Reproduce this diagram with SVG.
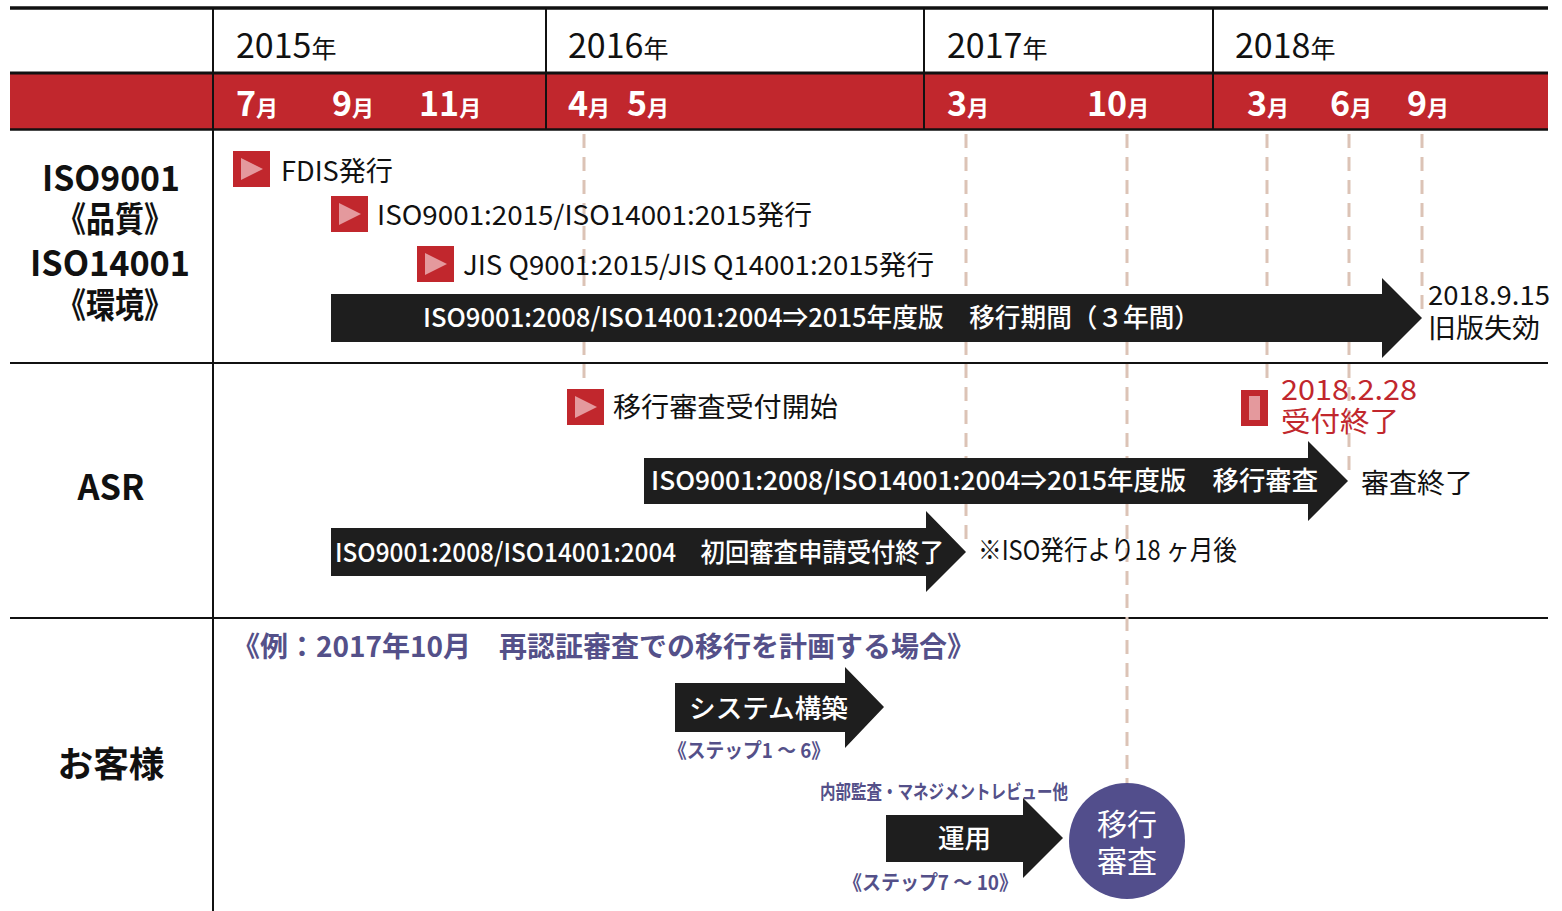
<svg xmlns="http://www.w3.org/2000/svg" width="1562" height="911" viewBox="0 0 1562 911">
<style>
text{font-family:"Noto Sans CJK JP","Noto Sans",sans-serif;}
.yr{font-size:34px;fill:#111;}
.yr tspan{font-size:25px;}
.mo{font-size:34px;fill:#fff;font-weight:700;}
.mo tspan{font-size:22px;}
.lbl{font-size:35px;font-weight:700;fill:#111;text-anchor:middle;}
.ev{font-size:27px;fill:#111;}
.wt{font-size:26px;fill:#fff;font-weight:500;}
.red{font-size:28px;fill:#c1272d;}
.pu{fill:#545089;font-weight:700;}
.dash{stroke:#dcc3b6;stroke-width:3;stroke-dasharray:14 9;fill:none;}
.grid{stroke:#111;fill:none;}
.arr{fill:#1e1e1e;}
</style>
<defs>
<g id="mk"><rect x="0" y="0" width="37" height="36" fill="#c1272d"/><polygon points="8,7 30,18 8,29" fill="#e4999d"/></g>
</defs>

<g id="header">
<rect x="10" y="73" width="1538" height="56" fill="#c1272d"/>
<line class="grid" x1="10" y1="8" x2="1548" y2="8" stroke-width="3.5"/>
<line class="grid" x1="10" y1="73" x2="1548" y2="73" stroke-width="3"/>
<line class="grid" x1="10" y1="129.5" x2="1548" y2="129.5" stroke-width="2.5"/>
<line class="grid" x1="213" y1="8" x2="213" y2="911" stroke-width="2"/>
<line class="grid" x1="546" y1="8" x2="546" y2="129" stroke-width="2"/>
<line class="grid" x1="924" y1="8" x2="924" y2="129" stroke-width="2"/>
<line class="grid" x1="1213" y1="8" x2="1213" y2="129" stroke-width="2"/>
<line class="grid" x1="10" y1="363" x2="1548" y2="363" stroke-width="2"/>
<line class="grid" x1="10" y1="618" x2="1548" y2="618" stroke-width="2"/>
<text class="yr" x="236" y="58">2015<tspan>年</tspan></text>
<text class="yr" x="568" y="58">2016<tspan>年</tspan></text>
<text class="yr" x="947" y="58">2017<tspan>年</tspan></text>
<text class="yr" x="1235" y="58">2018<tspan>年</tspan></text>
<text class="mo" x="236" y="116">7<tspan>月</tspan></text>
<text class="mo" x="332" y="116">9<tspan>月</tspan></text>
<text class="mo" x="419" y="116">11<tspan>月</tspan></text>
<text class="mo" x="568" y="116">4<tspan>月</tspan></text>
<text class="mo" x="627" y="116">5<tspan>月</tspan></text>
<text class="mo" x="947" y="116">3<tspan>月</tspan></text>
<text class="mo" x="1087" y="116">10<tspan>月</tspan></text>
<text class="mo" x="1247" y="116">3<tspan>月</tspan></text>
<text class="mo" x="1330" y="116">6<tspan>月</tspan></text>
<text class="mo" x="1407" y="116">9<tspan>月</tspan></text>
</g>

<g id="connectors">
<line class="dash" x1="584" y1="134" x2="584" y2="384"/>
<line class="dash" x1="966" y1="134" x2="966" y2="542"/>
<line class="dash" x1="1127" y1="134" x2="1127" y2="783"/>
<line class="dash" x1="1267" y1="134" x2="1267" y2="384"/>
<line class="dash" x1="1349" y1="134" x2="1349" y2="470"/>
<line class="dash" x1="1422" y1="134" x2="1422" y2="318"/>
</g>

<g id="row-labels">
<text class="lbl" x="111" y="191" textLength="138" lengthAdjust="spacingAndGlyphs">ISO9001</text>
<text class="lbl" x="115" y="232" font-size="31" textLength="116" lengthAdjust="spacingAndGlyphs">《品質》</text>
<text class="lbl" x="110" y="276" textLength="160" lengthAdjust="spacingAndGlyphs">ISO14001</text>
<text class="lbl" x="115" y="318" font-size="31" textLength="116" lengthAdjust="spacingAndGlyphs">《環境》</text>
<text class="lbl" x="111" y="500" font-size="37" textLength="67" lengthAdjust="spacingAndGlyphs">ASR</text>
<text class="lbl" x="111" y="777" font-size="34" textLength="107" lengthAdjust="spacingAndGlyphs">お客様</text>
</g>

<g id="ev-fdis">
<use href="#mk" x="233" y="151"/>
<text class="ev" x="281" y="181" textLength="112" lengthAdjust="spacingAndGlyphs">FDIS発行</text>
</g>
<g id="ev-iso">
<use href="#mk" x="331" y="196"/>
<text class="ev" x="377" y="225" textLength="435" lengthAdjust="spacingAndGlyphs">ISO9001:2015/ISO14001:2015発行</text>
</g>
<g id="ev-jis">
<use href="#mk" x="417" y="246"/>
<text class="ev" x="463" y="275" textLength="471" lengthAdjust="spacingAndGlyphs">JIS Q9001:2015/JIS Q14001:2015発行</text>
</g>
<g id="arrow-transition">
<polygon class="arr" points="331,294 1382,294 1382,278 1422,318 1382,358 1382,342 331,342"/>
<text class="wt" x="423" y="327" textLength="777" lengthAdjust="spacingAndGlyphs">ISO9001:2008/ISO14001:2004⇒2015年度版　移行期間（３年間）</text>
</g>
<g id="ev-expire">
<text class="ev" x="1428" y="305" font-size="26" textLength="122" lengthAdjust="spacingAndGlyphs">2018.9.15</text>
<text class="ev" x="1428" y="338" font-size="26" textLength="112" lengthAdjust="spacingAndGlyphs">旧版失効</text>
</g>

<g id="ev-accept-start">
<use href="#mk" x="567" y="389"/>
<text class="ev" x="613" y="417" textLength="225" lengthAdjust="spacingAndGlyphs">移行審査受付開始</text>
</g>
<g id="ev-accept-end">
<rect x="1241" y="390" width="27" height="36" fill="#c1272d"/>
<rect x="1249" y="396" width="11" height="24" fill="#e4999d"/>
<text class="red" x="1281" y="400" textLength="136" lengthAdjust="spacingAndGlyphs">2018.2.28</text>
<text class="red" x="1281" y="432" textLength="118" lengthAdjust="spacingAndGlyphs">受付終了</text>
</g>
<g id="arrow-audit">
<polygon class="arr" points="644,458 1308,458 1308,441 1348,481 1308,521 1308,504 644,504"/>
<text class="wt" x="651" y="490" textLength="667" lengthAdjust="spacingAndGlyphs">ISO9001:2008/ISO14001:2004⇒2015年度版　移行審査</text>
</g>
<g id="ev-audit-end">
<text class="ev" x="1361" y="493" textLength="112" lengthAdjust="spacingAndGlyphs">審査終了</text>
</g>
<g id="arrow-initial">
<polygon class="arr" points="331,528 926,528 926,511 966,552 926,592 926,576 331,576"/>
<text class="wt" x="335" y="562" font-size="25" textLength="609" lengthAdjust="spacingAndGlyphs">ISO9001:2008/ISO14001:2004　初回審査申請受付終了</text>
</g>
<g id="ev-note">
<text class="ev" x="978" y="560" font-size="24" textLength="259" lengthAdjust="spacingAndGlyphs">※ISO発行より18 ヶ月後</text>
</g>

<g id="example-title">
<text class="pu" x="232" y="657" font-size="28" textLength="743" lengthAdjust="spacingAndGlyphs">《例：2017年10月　再認証審査での移行を計画する場合》</text>
</g>
<g id="arrow-system">
<polygon class="arr" points="675,683 845,683 845,667 884,707 845,748 845,732 675,732"/>
<text class="wt" x="689" y="718" font-weight="700" textLength="159" lengthAdjust="spacingAndGlyphs">システム構築</text>
<text class="pu" x="668" y="758" font-size="20" textLength="162" lengthAdjust="spacingAndGlyphs">《ステップ1 ～ 6》</text>
</g>
<g id="arrow-operation">
<text class="pu" x="820" y="799" font-size="19" textLength="248" lengthAdjust="spacingAndGlyphs">内部監査・マネジメントレビュー他</text>
<polygon class="arr" points="886,815 1023,815 1023,798 1063,838 1023,878 1023,862 886,862"/>
<text class="wt" x="938" y="848" font-size="27" font-weight="700" textLength="53" lengthAdjust="spacingAndGlyphs">運用</text>
<text class="pu" x="843" y="890" font-size="20" textLength="175" lengthAdjust="spacingAndGlyphs">《ステップ7 ～ 10》</text>
</g>
<g id="audit-circle">
<circle cx="1127" cy="841" r="58" fill="#524e8c"/>
<text x="1127" y="835" font-size="30" fill="#fff" text-anchor="middle">移行</text>
<text x="1127" y="872" font-size="30" fill="#fff" text-anchor="middle">審査</text>
</g>
</svg>
